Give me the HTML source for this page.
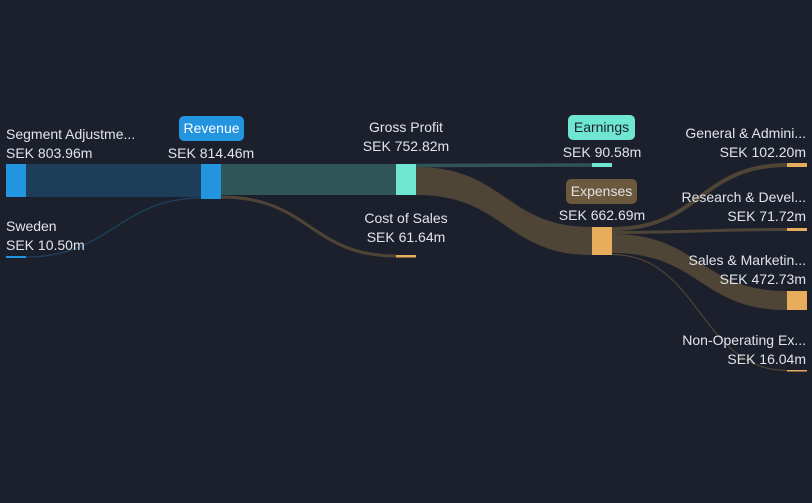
<!DOCTYPE html>
<html><head><meta charset="utf-8"><style>
body{margin:0;background:#1b202c;width:812px;height:503px;overflow:hidden;font-family:"Liberation Sans",sans-serif;}
svg{display:block}
text{font-family:"Liberation Sans",sans-serif;font-size:14px;fill:#e2e4e8}
</style></head><body>
<svg width="812" height="503" viewBox="0 0 812 503">
<rect width="812" height="503" fill="#1b202c"/>
<!-- links -->
<path d="M26,164 L201,164 L201,197 L26,197Z" fill="#1e3d58"/>
<path d="M26,257 C110,257 120,198 201,198" stroke="#1e3d58" stroke-width="1.5" fill="none"/>
<path d="M221,164 L396,164 L396,195 L221,195Z" fill="#2f5557"/>
<path d="M221,197 C310,197 310,256 396,256" stroke="#4f4536" stroke-width="3" fill="none"/>
<path d="M416,165.5 C500,165.5 510,165 592,165" stroke="#2f5557" stroke-width="3.5" fill="none"/>
<path d="M416,167 C505,167 505,227 592,227 L592,255 C505,255 505,195 416,195Z" fill="#4f4536"/>
<path d="M612,229 C700,229 700,165 787,165" stroke="#4f4536" stroke-width="4" fill="none"/>
<path d="M612,232.5 C700,232.5 700,229.5 787,229.5" stroke="#4f4536" stroke-width="3" fill="none"/>
<path d="M612,234 C700,234 700,291 787,291 L787,310 C700,310 700,253 612,253Z" fill="#4f4536"/>
<path d="M612,254.5 C700,254.5 700,370.5 787,370.5" stroke="#4f4536" stroke-width="1.2" fill="none"/>
<!-- nodes -->
<rect x="6" y="164" width="20" height="33" fill="#2394e0"/>
<rect x="6" y="256" width="20" height="2" fill="#2394e0"/>
<rect x="201" y="164" width="20" height="35" fill="#2394e0"/>
<rect x="396" y="164" width="20" height="31" fill="#6ee6d2"/>
<rect x="396" y="255" width="20" height="2.5" fill="#e8ad5c"/>
<rect x="592" y="163" width="20" height="4" fill="#6ee6d2"/>
<rect x="592" y="227" width="20" height="28" fill="#e8ad5c"/>
<rect x="787" y="163" width="20" height="4" fill="#e8ad5c"/>
<rect x="787" y="228" width="20" height="3" fill="#e8ad5c"/>
<rect x="787" y="291" width="20" height="19" fill="#e8ad5c"/>
<rect x="787" y="370" width="20" height="1.5" fill="#e8ad5c"/>
<!-- labels -->
<text x="6" y="139">Segment Adjustme...</text>
<text x="6" y="158">SEK 803.96m</text>
<text x="6" y="231">Sweden</text>
<text x="6" y="250">SEK 10.50m</text>
<rect x="179" y="116" width="65" height="25" rx="5" fill="#2394e0"/>
<text x="211.5" y="133" text-anchor="middle" style="fill:#fff">Revenue</text>
<text x="211" y="158" text-anchor="middle">SEK 814.46m</text>
<text x="406" y="132" text-anchor="middle">Gross Profit</text>
<text x="406" y="151" text-anchor="middle">SEK 752.82m</text>
<text x="406" y="223" text-anchor="middle">Cost of Sales</text>
<text x="406" y="242" text-anchor="middle">SEK 61.64m</text>
<rect x="568" y="115" width="67" height="25" rx="5" fill="#6ee6d2"/>
<text x="601.5" y="132" text-anchor="middle" style="fill:#1b202c">Earnings</text>
<text x="602" y="157" text-anchor="middle">SEK 90.58m</text>
<rect x="566" y="179" width="71" height="25" rx="5" fill="#6b583d"/>
<text x="601.5" y="196" text-anchor="middle">Expenses</text>
<text x="602" y="220" text-anchor="middle">SEK 662.69m</text>
<text x="806" y="138" text-anchor="end">General &amp; Admini...</text>
<text x="806" y="157" text-anchor="end">SEK 102.20m</text>
<text x="806" y="202" text-anchor="end">Research &amp; Devel...</text>
<text x="806" y="221" text-anchor="end">SEK 71.72m</text>
<text x="806" y="265" text-anchor="end">Sales &amp; Marketin...</text>
<text x="806" y="284" text-anchor="end">SEK 472.73m</text>
<text x="806" y="345" text-anchor="end">Non-Operating Ex...</text>
<text x="806" y="364" text-anchor="end">SEK 16.04m</text>
</svg>
</body></html>
